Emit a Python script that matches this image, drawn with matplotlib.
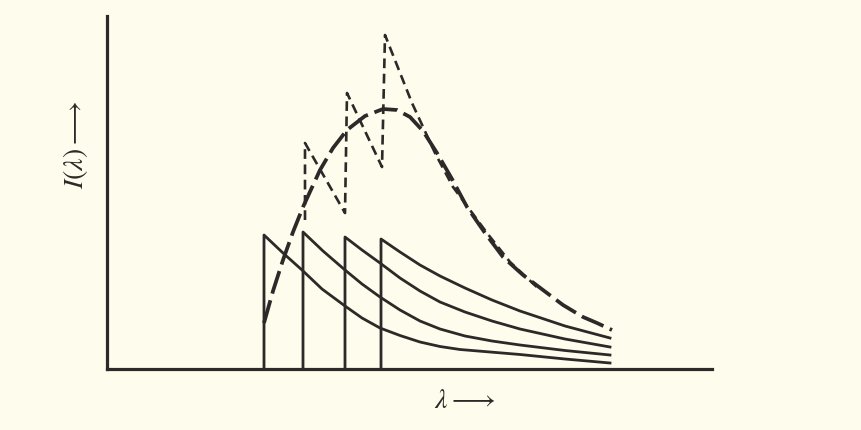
import matplotlib
matplotlib.use('Agg')
import matplotlib.pyplot as plt

""" DATA (arbitrary units read off the figure) """
# four single-pass spectra, each rising sharply at its edge then decaying
c1_x = [157, 157, 176, 195, 215, 238, 255, 273, 293, 313, 333, 353, 383, 413, 458, 503]
c1_y = [0, 134, 116, 99, 80, 63, 51, 41, 33.5, 27, 22.5, 19.5, 17, 14.5, 10, 6]
c2_x = [196, 196, 216, 238, 255, 273, 293, 313, 333, 358, 385, 413, 458, 503]
c2_y = [0, 137, 118, 99, 85, 72, 59, 48, 40, 33, 28, 24, 18.5, 14]
c3_x = [238, 238, 255, 273, 293, 313, 333, 358, 385, 413, 458, 503]
c3_y = [0, 132, 119, 106, 91, 78, 67, 57, 48, 40, 30, 22]
c4_x = [274, 274, 293, 313, 333, 358, 385, 413, 458, 503]
c4_y = [0, 130, 117, 104, 93, 81, 69, 58, 43, 31]

# smooth envelope (long dashes)
env_x = [157, 166, 176, 186, 196, 213, 226, 240, 258, 276, 290, 303, 316, 330,
         345, 360, 378, 396, 416, 436, 456, 476, 490, 505]
env_y = [46, 78, 109, 137, 162, 199, 221, 239, 253, 260, 259, 252, 238, 216,
         190, 162, 136, 112, 94, 79, 64, 52, 46, 39]

# summed sawtooth (short dashes)
saw_x = [198, 198, 238, 240, 275, 278, 305, 328, 346, 380, 403, 433]
saw_y = [149, 226, 156, 276, 202, 334, 266, 216, 182, 136, 107, 79]

x_max = 605
y_max = 353

bg = '#fefcec'
ink = '#2b2a28'

plt.rcParams['mathtext.fontset'] = 'stix'
plt.rcParams['lines.scale_dashes'] = False

fig = plt.figure(figsize=(8.61, 4.30), dpi=100, facecolor=bg)
ax = fig.add_axes([107/861, 61/430, 605/861, 353/430])
ax.set_facecolor(bg)

for xs, ys in [(c1_x, c1_y), (c2_x, c2_y), (c3_x, c3_y), (c4_x, c4_y)]:
	ax.plot(xs, ys, color=ink, lw=2.0, solid_joinstyle='round')

ax.plot(env_x, env_y, color=ink, lw=2.7, dashes=(17, 5), dash_capstyle='butt')
ax.plot(saw_x, saw_y, color=ink, lw=1.9, dashes=(7, 4))

ax.set_xlim(0, x_max)
ax.set_ylim(0, y_max)
for s in ['top', 'right']:
	ax.spines[s].set_visible(False)
for s in ['left', 'bottom']:
	ax.spines[s].set_linewidth(2.3)
	ax.spines[s].set_color(ink)
ax.set_xticks([])
ax.set_yticks([])

fig.text(76/861, 1 - 145/430, r'$I(\lambda)\longrightarrow$', rotation=90,
	ha='center', va='center', fontsize=20, color=ink)
fig.text(465/861, 1 - 400/430, r'$\lambda\longrightarrow$',
	ha='center', va='center', fontsize=20, color=ink)

fig.savefig('out.png', dpi=100, facecolor=bg)
